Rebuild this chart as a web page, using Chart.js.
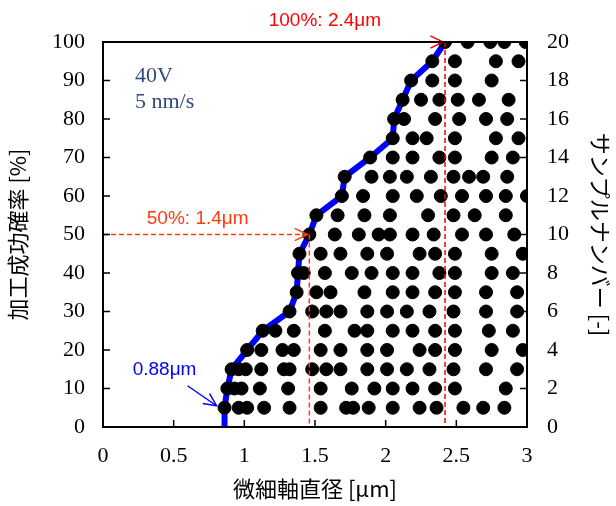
<!DOCTYPE html>
<html>
<head>
<meta charset="utf-8">
<script src="https://cdn.jsdelivr.net/npm/chart.js@4"></script>
<style>
  html, body { margin: 0; padding: 0; background: #fff; }
</style>
</head>
<body>
<canvas id="grafico" width="616" height="506"></canvas>
<script>
// サンプル番号ごとの微細軸直径 [μm]
const sampleNumbers = [1, 2, 3, 4, 5, 6, 7, 8, 9, 10, 11, 12, 13, 14, 15, 16, 17, 18, 19, 20];
const sampleDiameters = [
    [0.86, 0.96, 1.02, 1.14, 1.32, 1.54, 1.72, 1.77, 1.88, 2.05, 2.24, 2.36, 2.55, 2.69, 2.84],
    [0.88, 0.93, 0.98, 1.11, 1.31, 1.54, 1.76, 1.92, 2.05, 2.19, 2.35, 2.49, 2.85],
    [0.91, 0.96, 1.01, 1.12, 1.28, 1.32, 1.48, 1.58, 1.68, 1.87, 2.01, 2.15, 2.31, 2.48, 2.71, 2.93],
    [1.02, 1.12, 1.27, 1.35, 1.54, 1.68, 1.87, 2.01, 2.24, 2.35, 2.49, 2.75, 2.97],
    [1.13, 1.22, 1.35, 1.57, 1.78, 1.87, 2.05, 2.19, 2.35, 2.49, 2.73, 2.90],
    [1.32, 1.48, 1.58, 1.68, 1.87, 2.01, 2.15, 2.31, 2.48, 2.71, 2.93],
    [1.37, 1.51, 1.61, 1.85, 2.05, 2.19, 2.35, 2.49, 2.71, 2.93],
    [1.38, 1.42, 1.57, 1.76, 1.90, 2.05, 2.19, 2.38, 2.49, 2.75, 2.90],
    [1.39, 1.54, 1.68, 1.87, 2.01, 2.24, 2.35, 2.49, 2.75, 2.97],
    [1.46, 1.64, 1.81, 1.95, 2.03, 2.19, 2.34, 2.54, 2.71, 2.91],
    [1.51, 1.66, 1.85, 2.03, 2.30, 2.48, 2.63, 2.85],
    [1.69, 1.84, 2.05, 2.22, 2.39, 2.54, 2.71, 2.85, 3.00],
    [1.71, 1.90, 2.03, 2.15, 2.32, 2.48, 2.59, 2.69, 2.86],
    [1.89, 2.05, 2.19, 2.38, 2.49, 2.75, 2.90],
    [2.05, 2.19, 2.29, 2.49, 2.78, 2.94],
    [2.06, 2.13, 2.35, 2.52, 2.71, 2.86],
    [2.12, 2.25, 2.38, 2.51, 2.66, 2.87],
    [2.18, 2.33, 2.49, 2.75],
    [2.33, 2.49, 2.78, 2.94],
    [2.42, 2.58, 2.74, 2.84, 2.99]
];

// 加工成功確率の累積線
const lineDiameters = [0.86, 0.86, 0.88, 0.91, 1.02, 1.13, 1.32, 1.37, 1.38, 1.39, 1.46, 1.51, 1.69, 1.71, 1.89, 2.05, 2.06, 2.12, 2.18, 2.33, 2.42];
const lineProbability = [0, 5, 10, 15, 20, 25, 30, 35, 40, 45, 50, 55, 60, 65, 70, 75, 80, 85, 90, 95, 100];

// 注記
const markerProbability = [100, 50];
const markerDiameter = [2.42, 1.46];
const markerLabels = ["100%: 2.4μm", "50%: 1.4μm"];
const minLabel = "0.88μm";
const conditionLabels = ["40V", "5 nm/s"];

const xTicks = [0, 0.5, 1, 1.5, 2, 2.5, 3];
const xTickLabels = ["0", "0.5", "1", "1.5", "2", "2.5", "3"];

function puntosMuestras() {
    const pts = [];
    sampleDiameters.forEach((fila, i) => {
        fila.forEach((d) => {
            pts.push({ x: d, y: sampleNumbers[i] });
        });
    });
    return pts;
}

function puntosLinea() {
    return lineDiameters.map((d, i) => {
        return { x: d, y: lineProbability[i] };
    });
}

function flecha(ctx, x0, y0, x1, y1, color) {
    const ang = Math.atan2(y1 - y0, x1 - x0);
    const len = 14;
    ctx.save();
    ctx.setLineDash([]);
    ctx.strokeStyle = color;
    ctx.lineWidth = 1.5;
    ctx.beginPath();
    ctx.moveTo(x1 - len * Math.cos(ang - 0.45), y1 - len * Math.sin(ang - 0.45));
    ctx.lineTo(x1, y1);
    ctx.lineTo(x1 - len * Math.cos(ang + 0.45), y1 - len * Math.sin(ang + 0.45));
    ctx.stroke();
    ctx.restore();
}

// 枠と内向きの目盛り
const marcoPlugin = {
    id: "marco",
    afterDraw(chart) {
        const ctx = chart.ctx;
        const a = chart.chartArea;
        const xs = chart.scales.x;
        const ys = chart.scales.y;
        const y2 = chart.scales.y2;
        ctx.save();
        ctx.strokeStyle = "#000";
        ctx.lineWidth = 2;
        ctx.strokeRect(a.left, a.top, a.right - a.left, a.bottom - a.top);
        ctx.lineWidth = 1.5;
        ctx.beginPath();
        xTicks.forEach((v) => {
            const px = xs.getPixelForValue(v);
            ctx.moveTo(px, a.bottom);
            ctx.lineTo(px, a.bottom - 7);
        });
        ys.ticks.forEach((t) => {
            const py = ys.getPixelForValue(t.value);
            ctx.moveTo(a.left, py);
            ctx.lineTo(a.left + 7, py);
        });
        y2.ticks.forEach((t) => {
            const py = y2.getPixelForValue(t.value);
            ctx.moveTo(a.right, py);
            ctx.lineTo(a.right - 7, py);
        });
        ctx.stroke();
        ctx.restore();
    }
};

// 赤い破線と注記テキスト
const notasPlugin = {
    id: "notas",
    afterDatasetsDraw(chart) {
        const ctx = chart.ctx;
        const a = chart.chartArea;
        const xs = chart.scales.x;
        const ys = chart.scales.y;
        const colores = ["#ff0000", "#ff3a10"];
        const textoY = [a.top - 21, ys.getPixelForValue(50) - 16];
        const textoX = [xs.getPixelForValue(1.57), xs.getPixelForValue(0.67)];
        ctx.save();
        markerProbability.forEach((p, i) => {
            const px = xs.getPixelForValue(markerDiameter[i]);
            const py = ys.getPixelForValue(p);
            ctx.strokeStyle = colores[i];
            ctx.lineWidth = 1.5;
            ctx.setLineDash([5, 3]);
            ctx.beginPath();
            ctx.moveTo(a.left, py);
            ctx.lineTo(px - 2, py);
            ctx.moveTo(px, py);
            ctx.lineTo(px, a.bottom);
            ctx.stroke();
            flecha(ctx, a.left, py, px - 2, py, colores[i]);
            ctx.fillStyle = colores[i];
            ctx.font = "19px 'Liberation Sans', Arial, sans-serif";
            ctx.textAlign = "center";
            ctx.textBaseline = "middle";
            ctx.fillText(markerLabels[i], textoX[i], textoY[i]);
        });
        // 最小直径の青い矢印
        const bx = xs.getPixelForValue(lineDiameters[1]) - 8;
        const by = ys.getPixelForValue(lineProbability[1]) - 2;
        ctx.strokeStyle = "#0000ff";
        ctx.lineWidth = 1.5;
        ctx.setLineDash([]);
        ctx.beginPath();
        ctx.moveTo(bx - 29, by - 20);
        ctx.lineTo(bx, by);
        ctx.stroke();
        flecha(ctx, bx - 29, by - 20, bx, by, "#0000ff");
        ctx.fillStyle = "#0000ff";
        ctx.font = "19px 'Liberation Sans', Arial, sans-serif";
        ctx.textAlign = "center";
        ctx.textBaseline = "middle";
        ctx.fillText(minLabel, bx - 52, by - 36);
        // 条件
        ctx.fillStyle = "#2f4b7c";
        ctx.font = "22px 'Liberation Serif', 'DejaVu Serif', serif";
        ctx.textAlign = "left";
        ctx.textBaseline = "alphabetic";
        ctx.fillText(conditionLabels[0], a.left + 32, a.top + 40);
        ctx.fillText(conditionLabels[1], a.left + 32, a.top + 66);
        ctx.restore();
    }
};

function cargarGrafico() {
    const ctx = document.getElementById("grafico");
    const fuenteEje = { family: "'Liberation Serif', 'Times New Roman', serif", size: 22 };
    const fuenteTitulo = { family: "'Noto Sans CJK JP', sans-serif", size: 22 };
    const config = {
        type: "scatter",
        data: {
            datasets: [
                {
                    label: "samples",
                    data: puntosMuestras(),
                    yAxisID: "y2",
                    backgroundColor: "#000",
                    borderColor: "#000",
                    pointRadius: 6.5,
                    pointHoverRadius: 6.5,
                    order: 0
                },
                {
                    label: "probability",
                    data: puntosLinea(),
                    yAxisID: "y",
                    showLine: true,
                    borderColor: "#0000ff",
                    borderWidth: 6,
                    pointRadius: 0,
                    fill: false,
                    order: 1
                }
            ]
        },
        options: {
            responsive: false,
            animation: false,
            layout: { padding: { top: 42, left: 0, right: 0, bottom: 0 } },
            plugins: {
                legend: { display: false },
                tooltip: { enabled: false }
            },
            scales: {
                x: {
                    type: "linear",
                    min: 0,
                    max: 3,
                    afterBuildTicks: (scale) => {
                        scale.ticks = xTicks.map((v) => ({ value: v }));
                    },
                    grid: { display: false, drawTicks: false },
                    border: { display: false },
                    ticks: {
                        color: "#000",
                        font: fuenteEje,
                        padding: 16,
                        maxRotation: 0,
                        callback: (value, index) => xTickLabels[index]
                    },
                    title: { display: true, text: "微細軸直径 [μm]", color: "#000", font: fuenteTitulo, padding: { top: 6 } },
                    afterFit: (scale) => { scale.height = 79; }
                },
                y: {
                    type: "linear",
                    position: "left",
                    min: 0,
                    max: 100,
                    ticks: { stepSize: 10, color: "#000", font: fuenteEje, padding: 18 },
                    grid: { display: false, drawTicks: false },
                    border: { display: false },
                    title: { display: true, text: "加工成功確率 [%]", color: "#000", font: fuenteTitulo, padding: { bottom: 2 } },
                    afterFit: (scale) => { scale.width = 103; }
                },
                y2: {
                    type: "linear",
                    position: "right",
                    min: 0,
                    max: 20,
                    ticks: { stepSize: 2, color: "#000", font: fuenteEje, padding: 20 },
                    grid: { display: false, drawTicks: false },
                    border: { display: false },
                    title: { display: true, text: "サンプルナンバー [-]", color: "#000", font: fuenteTitulo, padding: { top: 2 } },
                    afterFit: (scale) => { scale.width = 89; }
                }
            }
        },
        plugins: [marcoPlugin, notasPlugin]
    };
    new Chart(ctx, config);
}
cargarGrafico();
</script>
</body>
</html>
